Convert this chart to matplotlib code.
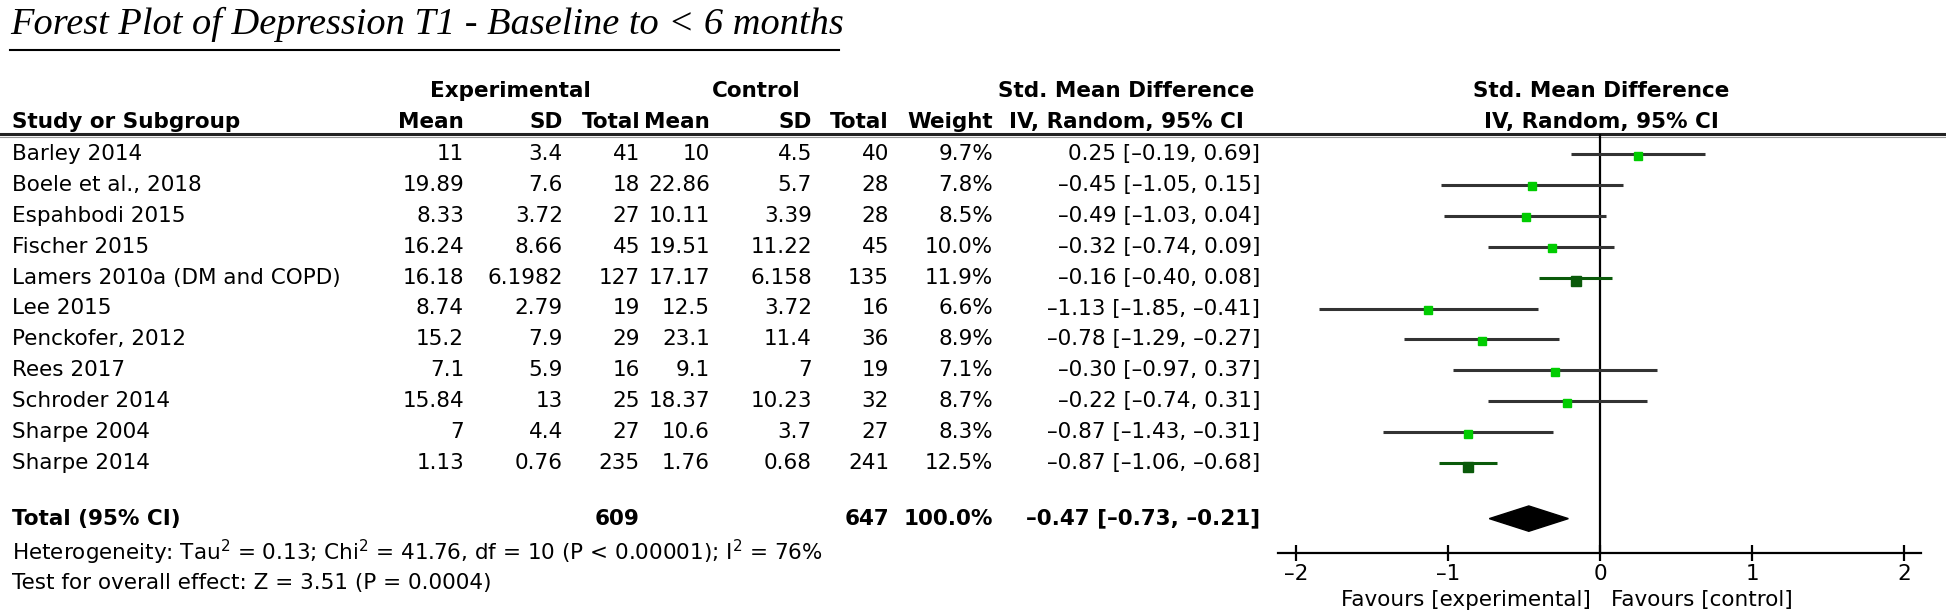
import matplotlib
matplotlib.use('Agg')
import matplotlib.pyplot as plt
from matplotlib.patches import Polygon

# --- data ---
studies  = ['Barley 2014', 'Boele et al., 2018', 'Espahbodi 2015', 'Fischer 2015',
            'Lamers 2010a (DM and COPD)', 'Lee 2015', 'Penckofer, 2012', 'Rees 2017',
            'Schroder 2014', 'Sharpe 2004', 'Sharpe 2014']
exp_mean = [11, 19.89, 8.33, 16.24, 16.18, 8.74, 15.2, 7.1, 15.84, 7, 1.13]
exp_sd   = [3.4, 7.6, 3.72, 8.66, 6.1982, 2.79, 7.9, 5.9, 13, 4.4, 0.76]
exp_n    = [41, 18, 27, 45, 127, 19, 29, 16, 25, 27, 235]
ctl_mean = [10, 22.86, 10.11, 19.51, 17.17, 12.5, 23.1, 9.1, 18.37, 10.6, 1.76]
ctl_sd   = [4.5, 5.7, 3.39, 11.22, 6.158, 3.72, 11.4, 7, 10.23, 3.7, 0.68]
ctl_n    = [40, 28, 28, 45, 135, 16, 36, 19, 32, 27, 241]
weight   = [9.7, 7.8, 8.5, 10.0, 11.9, 6.6, 8.9, 7.1, 8.7, 8.3, 12.5]
smd      = [0.25, -0.45, -0.49, -0.32, -0.16, -1.13, -0.78, -0.30, -0.22, -0.87, -0.87]
ci_lo    = [-0.19, -1.05, -1.03, -0.74, -0.40, -1.85, -1.29, -0.97, -0.74, -1.43, -1.06]
ci_hi    = [0.69, 0.15, 0.04, 0.09, 0.08, -0.41, -0.27, 0.37, 0.31, -0.31, -0.68]

total_exp_n = 609
total_ctl_n = 647
total_weight = 100.0
total_smd, total_lo, total_hi = -0.47, -0.73, -0.21
x_ticks = [-2, -1, 0, 1, 2]

title = 'Forest Plot of Depression T1 - Baseline to < 6 months'
het_text = 'Heterogeneity: Tau$^2$ = 0.13; Chi$^2$ = 41.76, df = 10 (P < 0.00001); I$^2$ = 76%'
test_text = 'Test for overall effect: Z = 3.51 (P = 0.0004)'

FS = 15.5
ROW0, ROW_H = 154, 30.9      # pixel y of first study row, row spacing
TOTAL_ROW = 11.8             # total row in row units

def dash(s):
    return s.replace('-', '\u2013')

def fmt_ci(e, lo, hi):
    return dash(f'{e:.2f} [{lo:.2f}, {hi:.2f}]')

fig = plt.figure(figsize=(19.46, 6.12), dpi=100)
plt.rcParams['mathtext.fontset'] = 'dejavusans'

# text layer in pixel coordinates
tx = fig.add_axes([0, 0, 1, 1])
tx.set_xlim(0, 1946)
tx.set_ylim(612, 0)
tx.axis('off')

tx.text(10, 24, title, fontsize=27.6, family='Liberation Serif', style='italic',
        va='center', ha='left')
tx.plot([10, 839], [50, 50], color='black', lw=1.5)

hdr = dict(fontsize=FS, fontweight='bold', va='center')
tx.text(510, 91, 'Experimental', ha='center', **hdr)
tx.text(756, 91, 'Control', ha='center', **hdr)
tx.text(1126, 91, 'Std. Mean Difference', ha='center', **hdr)
tx.text(1601, 91, 'Std. Mean Difference', ha='center', **hdr)
tx.text(12, 122, 'Study or Subgroup', ha='left', **hdr)
cols = [464, 563, 640, 710, 812, 889, 993]
for x, lab in zip(cols, ['Mean', 'SD', 'Total', 'Mean', 'SD', 'Total', 'Weight']):
    tx.text(x, 122, lab, ha='right', **hdr)
tx.text(1126, 122, 'IV, Random, 95% CI', ha='center', **hdr)
tx.text(1601, 122, 'IV, Random, 95% CI', ha='center', **hdr)
tx.plot([0, 1946], [134, 134], color='#222222', lw=2.2)
tx.plot([0, 1946], [136.5, 136.5], color='#999999', lw=0.8)

cell = dict(fontsize=FS, va='center')
for i, name in enumerate(studies):
    y = ROW0 + ROW_H * i
    tx.text(12, y, name, ha='left', **cell)
    vals = [f'{exp_mean[i]:g}', f'{exp_sd[i]:g}', str(exp_n[i]),
            f'{ctl_mean[i]:g}', f'{ctl_sd[i]:g}', str(ctl_n[i]), f'{weight[i]:.1f}%']
    for x, v in zip(cols, vals):
        tx.text(x, y, v, ha='right', **cell)
    tx.text(1260, y, fmt_ci(smd[i], ci_lo[i], ci_hi[i]), ha='right', **cell)

yt = ROW0 + ROW_H * TOTAL_ROW
bold = dict(fontsize=FS, fontweight='bold', va='center')
tx.text(12, yt, 'Total (95% CI)', ha='left', **bold)
tx.text(cols[2], yt, str(total_exp_n), ha='right', **bold)
tx.text(cols[5], yt, str(total_ctl_n), ha='right', **bold)
tx.text(cols[6], yt, f'{total_weight:.1f}%', ha='right', **bold)
tx.text(1260, yt, fmt_ci(total_smd, total_lo, total_hi), ha='right', **bold)
tx.text(12, 552, het_text, ha='left', **cell)
tx.text(12, 583, test_text, ha='left', **cell)

# forest plot axes
top_px, axis_px = 134, 553
left_px, right_px = 1278, 1921
ax = fig.add_axes([left_px / 1946, 1 - axis_px / 612,
                   (right_px - left_px) / 1946, (axis_px - top_px) / 612])
ax.patch.set_alpha(0)
ax.set_xlim(-2.12, 2.11)
ax.set_ylim((axis_px - ROW0) / ROW_H, (top_px - ROW0) / ROW_H)
for s in ['top', 'left', 'right']:
    ax.spines[s].set_visible(False)
ax.spines['bottom'].set_linewidth(1.6)
ax.set_yticks([])
ax.set_xticks(x_ticks)
ax.set_xticklabels([dash(str(t)) for t in x_ticks])
ax.tick_params(axis='x', direction='inout', length=12, width=1.6,
               labelsize=FS, pad=2)
ax.axvline(0, color='black', lw=1.6, zorder=1)

for i in range(len(studies)):
    heavy = weight[i] > 11
    lc = '#0a5a0a' if heavy else '#333333'
    mc = '#0a5a0a' if heavy else '#00cc00'
    ax.plot([ci_lo[i], ci_hi[i]], [i, i], color=lc, lw=2.2, solid_capstyle='butt', zorder=2)
    ax.plot(smd[i], i + (0.12 if heavy else 0.05), marker='s', ms=7 if heavy else 6,
            color=mc, mec=mc, zorder=3)

half_h = 0.41
ax.add_patch(Polygon([[total_lo, TOTAL_ROW], [total_smd, TOTAL_ROW - half_h],
                      [total_hi, TOTAL_ROW], [total_smd, TOTAL_ROW + half_h]],
                     closed=True, color='black', zorder=3))

fig.text(1591 / 1946, 1 - 600 / 612, 'Favours [experimental]', ha='right', va='center', fontsize=FS)
fig.text(1611 / 1946, 1 - 600 / 612, 'Favours [control]', ha='left', va='center', fontsize=FS)

fig.savefig('out.png', dpi=100)
